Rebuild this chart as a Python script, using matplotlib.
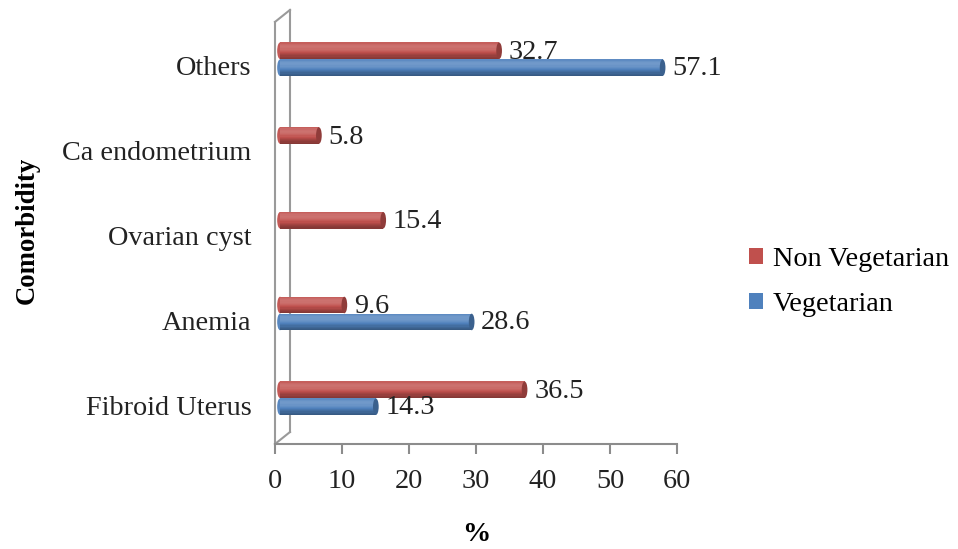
import numpy as np
import matplotlib
matplotlib.use("Agg")
import matplotlib.pyplot as plt
import matplotlib.colors as mcolors
import matplotlib.transforms as mtransforms
from matplotlib.patches import Ellipse, Patch

# ---- data ----
categories = ["Fibroid Uterus", "Anemia", "Ovarian cyst", "Ca endometrium", "Others"]
non_veg = [36.5, 9.6, 15.4, 5.8, 32.7]
veg = [14.3, 28.6, 0, 0, 57.1]

series_names = ["Non Vegetarian", "Vegetarian"]
red = "#C0504D"
blue = "#4F81BD"

plt.rcParams["font.family"] = ["Liberation Serif", "DejaVu Serif"]
FS = 20.3

W, H = 958, 549
fig = plt.figure(figsize=(W / 100, H / 100), dpi=100)
ax = fig.add_axes([275 / W, (H - 444) / H, 402 / W, 432 / H])

ax.set_xlim(0, 60)
ax.set_ylim(-0.46, 4.637)

bar_h = 0.195
depth = 0.75      # bars sit a little in front of the back wall
cap_w = 0.85      # width of the rounded cylinder end, in x units


def shade(c, f):
    r, g, b = mcolors.to_rgb(c)
    if f >= 0:
        return (r + (1 - r) * f, g + (1 - g) * f, b + (1 - b) * f)
    return (r * (1 + f), g * (1 + f), b * (1 + f))


def cylinder(yc, value, color):
    if value <= 0:
        return
    # horizontal bands give the tube shading: light near the top, dark at the bottom
    n = 14
    edges = np.linspace(yc - bar_h / 2, yc + bar_h / 2, n + 1)
    for k in range(n):
        t = (k + 0.5) / n           # 0 = bottom, 1 = top
        f = -0.32 + 0.8 * np.sin(np.pi * (0.15 + 0.7 * t)) * t
        f = min(f, 0.3)
        ax.barh(edges[k], value, height=edges[k + 1] - edges[k], left=depth,
                align="edge", color=shade(color, f), linewidth=0, zorder=3)
    ax.add_patch(Ellipse((depth, yc), cap_w, bar_h, color=shade(color, 0.05),
                         linewidth=0, zorder=2.9))
    ax.add_patch(Ellipse((depth + value, yc), cap_w, bar_h, color=shade(color, -0.25),
                         linewidth=0, zorder=3.1))


y = np.arange(len(categories))
for i in range(len(categories)):
    cylinder(y[i] + 0.18, non_veg[i], red)
    cylinder(y[i] - 0.02, veg[i], blue)
    ax.text(depth + non_veg[i] + cap_w / 2 + 1.0, y[i] + 0.16, f"{non_veg[i]}",
            va="center", ha="left", fontsize=FS, color="#222222", zorder=4)
    if veg[i] > 0:
        ax.text(depth + veg[i] + cap_w / 2 + 1.0, y[i] - 0.03, f"{veg[i]}",
                va="center", ha="left", fontsize=FS, color="#222222", zorder=4)

# back wall drawn as a slanted panel behind the bars
wall_top = 4.52
off = mtransforms.offset_copy(ax.transData, fig=fig, x=15, y=12, units="dots")
gray = "#9A9A9A"
ax.plot([0, 0], [-0.46, wall_top], color=gray, lw=1.5, clip_on=False, zorder=1)
ax.plot([0, 0], [-0.46, wall_top], color=gray, lw=1.5, clip_on=False, zorder=1,
        transform=off)
xa = ax.transData.transform([(0, wall_top), (0, -0.46)])
xb = off.transform([(0, wall_top), (0, -0.46)])
for p, q in zip(xa, xb):
    ax.plot([p[0], q[0]], [p[1], q[1]], color=gray, lw=1.5, transform=None,
            clip_on=False, zorder=1)

# axes styling
for s in ["left", "top", "right"]:
    ax.spines[s].set_visible(False)
ax.spines["bottom"].set_color("#8C8C8C")
ax.spines["bottom"].set_linewidth(1.5)

ax.set_xticks(np.arange(0, 61, 10))
ax.tick_params(axis="x", direction="out", length=7, width=1.5, color="#8C8C8C",
               labelsize=FS, pad=11, labelcolor="#222222")
ax.set_yticks(y)
ax.set_yticklabels(categories)
ax.tick_params(axis="y", length=0, labelsize=FS, pad=17, labelcolor="#222222")

ax.set_xlabel("%", fontsize=FS, fontweight="bold")
ax.xaxis.set_label_coords(0.5, -0.18)
ax.set_ylabel("Comorbidity", fontsize=19.3, fontweight="bold")
ax.yaxis.set_label_coords(-0.585, 0.495)

handles = [Patch(facecolor=red), Patch(facecolor=blue)]
fig.legend(handles, series_names, loc="center left",
           bbox_to_anchor=(749 / W, 1 - 282 / H), frameon=False, fontsize=FS,
           borderpad=0, borderaxespad=0,
           handlelength=0.5, handleheight=0.5, handletextpad=0.35,
           labelspacing=0.72)

fig.savefig("out.png", dpi=100, facecolor="white")
